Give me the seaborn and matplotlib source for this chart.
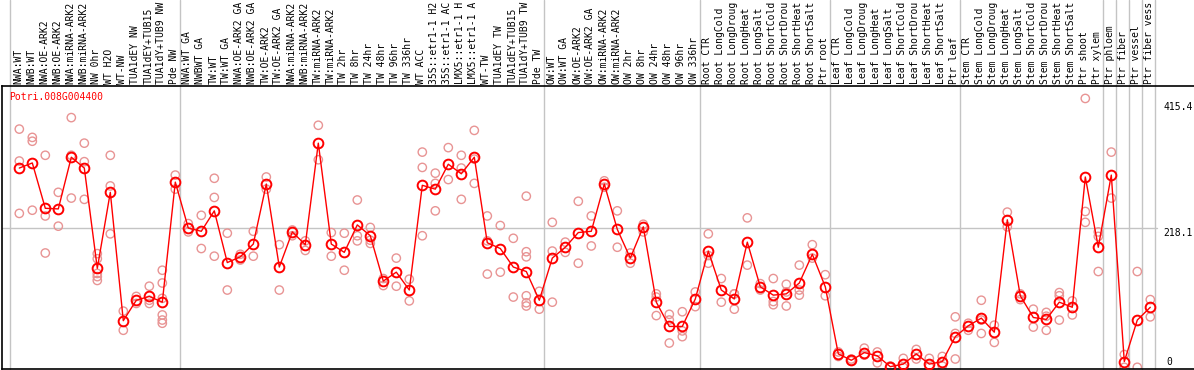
import numpy as np
import pandas as pd
import matplotlib
matplotlib.use("Agg")
import matplotlib.pyplot as plt
import matplotlib.transforms as mtransforms
import seaborn as sns

gene_name = "Potri.008G004400"

categories = [
    "NWA:WT", "NWB:WT", "NWA:OE-ARK2", "NWB:OE-ARK2", "NWA:miRNA-ARK2",
    "NWB:miRNA-ARK2", "NW 0hr", "WT H2O", "WT-NW", "TUA1dEY NW",
    "TUA1dEY+TUB15", "TUA1dY+TUB9 NW", "Pde NW", "NWA:WT GA", "NWBWT GA",
    "TW:WT", "TW:WT GA", "NWA:OE-ARK2 GA", "NWB:OE-ARK2 GA", "TW:OE-ARK2",
    "TW:OE-ARK2 GA", "NWA:miRNA-ARK2", "NWB:miRNA-ARK2", "TW:miRNA-ARK2",
    "TW:miRNA-ARK2", "TW 2hr", "TW 8hr", "TW 24hr", "TW 48hr", "TW 96hr",
    "TW 336hr", "WT ACC", "35S::etr1-1 H2", "35S::etr1-1 AC", "LMX5::etr1-1 H",
    "LMX5::etr1-1 A", "WT-TW", "TUA1dEY TW", "TUA1dEY+TUB15", "TUA1dY+TUB9 TW",
    "Pde TW", "OW:WT", "OW:WT GA", "OW:OE-ARK2", "OW:OE-ARK2 GA",
    "OW:miRNA-ARK2", "OW:miRNA-ARK2", "OW 2hr", "OW 8hr", "OW 24hr",
    "OW 48hr", "OW 96hr", "OW 336hr", "Root CTR", "Root LongCold",
    "Root LongDroug", "Root LongHeat", "Root LongSalt", "Root ShortCold",
    "Root ShortDrou", "Root ShortHeat", "Root ShortSalt", "Ptr root",
    "Leaf CTR", "Leaf LongCold", "Leaf LongDroug", "Leaf LongHeat",
    "Leaf LongSalt", "Leaf ShortCold", "Leaf ShortDrou", "Leaf ShortHeat",
    "Leaf ShortSalt", "Ptr leaf", "Stem CTR", "Stem LongCold",
    "Stem LongDroug", "Stem LongHeat", "Stem LongSalt", "Stem ShortCold",
    "Stem ShortDrou", "Stem ShortHeat", "Stem ShortSalt", "Ptr shoot",
    "Ptr xylem", "Ptr phloem", "Ptr fiber", "Ptr vessel", "Ptr fiber vess",
]

mean_values = [
    312, 320, 249, 248, 329, 312, 155, 274, 73, 105,
    111, 102, 290, 218, 213, 245, 164, 173, 193, 287,
    157, 212, 192, 351, 193, 180, 223, 206, 135, 149,
    121, 285, 279, 318, 303, 329, 195, 186, 157, 150,
    105, 171, 188, 211, 213, 287, 216, 171, 220, 102,
    64, 64, 107, 182, 121, 107, 196, 126, 113, 115,
    132, 177, 126, 21, 11, 23, 18, 1, 5, 21,
    5, 9, 48, 65, 77, 55, 231, 112, 78, 75,
    102, 94, 298, 188, 301, 9, 74, 94,
]

replicate_values = [
    [373, 323, 241], [360, 354, 246], [332, 237, 179], [274, 221],
    [391, 332, 265], [351, 322, 263], [178, 170, 147, 142, 136],
    [332, 284, 209], [88, 58], [111, 100], [127, 105, 100],
    [152, 132, 108, 82, 74, 69], [301, 279], [225, 212], [238, 186],
    [296, 266, 174], [210, 121], [177, 168], [213, 174], [298, 279],
    [192, 121], [215, 206], [198, 183], [379, 325], [211, 174],
    [210, 152], [262, 206, 198], [219, 199, 194], [139, 128], [171, 127],
    [138, 104], [337, 313, 206], [304, 288, 245], [344, 294],
    [332, 312, 263], [371, 326, 288], [237, 198, 146], [222, 149],
    [202, 110], [268, 181, 173, 112, 101, 96], [119, 91], [227, 182, 102],
    [196, 180], [260, 163], [237, 190], [292, 282], [245, 188],
    [179, 163], [224, 212], [115, 110, 81], [83, 74, 38], [87, 57, 48],
    [118, 95], [209, 175, 163], [139, 102], [115, 115, 91], [234, 160],
    [131, 121], [139, 103, 98], [130, 118, 96], [160, 121, 113],
    [192, 171], [145, 112], [24, 17], [13, 10], [30, 19], [24, 7],
    [2, 0], [14, 0], [28, 13], [14, 1], [17, 2], [79, 53, 13], [69, 58],
    [105, 74, 53], [66, 39], [243, 220], [115, 106], [91, 63],
    [86, 80, 58], [117, 112, 74], [104, 82], [421, 244, 227],
    [212, 205, 150], [337, 265], [20, 0], [150, 0], [106, 79],
]

y_tick_values = [415.4, 218.1, 0]
y_tick_labels = ["415.4", "218.1", "0"]
group_ends = [12, 40, 52, 62, 72, 83, 84, 85, 86, 87]

# ---------------------------------------------------------------
W, H, DPI = 1194, 370, 100
fig = plt.figure(figsize=(W / DPI, H / DPI), dpi=DPI)
sns.set_style("white")
plt.rcParams["font.family"] = ["DejaVu Sans Mono", "DejaVu Sans"]

ax_left, ax_right = 2, 1194
ax_top, ax_bot = 86, 369
ax = fig.add_axes([ax_left / W, 1 - ax_bot / H,
                   (ax_right - ax_left) / W, (ax_bot - ax_top) / H])

x0_px, pitch = 19.3, 13.0
ax.set_xlim((ax_left - x0_px) / pitch, (ax_right - x0_px) / pitch)
zero_px, scale = 367.3, 0.6386
ax.set_ylim((zero_px - ax_bot) / scale, (zero_px - ax_top) / scale)

idx = np.arange(len(categories))
mean_df = pd.DataFrame({"x": idx, "value": mean_values})
rep_df = pd.DataFrame(
    [(i, v) for i, reps in enumerate(replicate_values) for v in reps],
    columns=["x", "value"],
)

rep_color = "#E89494"
grid_color = "#C4C4C4"

# grid lines
xmax_data = (1157 - x0_px) / pitch
over = 1 + ax_top / (ax_bot - ax_top)
ax.axvline(-0.715, ymin=0, ymax=over, color=grid_color, lw=1.0, clip_on=False, zorder=1)
for g in group_ends:
    ax.axvline(g + 5 / pitch, ymin=0, ymax=over, color=grid_color, lw=1.0,
               clip_on=False, zorder=1)
ax.plot([ax.get_xlim()[0], xmax_data], [218.1, 218.1], color=grid_color, lw=1.0, zorder=1)

sc = sns.scatterplot(data=rep_df, x="x", y="value", ax=ax, s=36,
                     marker="o", color=rep_color, linewidth=1.0, zorder=2,
                     legend=False)
for coll in ax.collections:
    coll.set_facecolor("none")
    coll.set_edgecolor(rep_color)
    coll.set_linewidth(1.0)

sns.lineplot(data=mean_df, x="x", y="value", ax=ax, color="#FF0000",
             linewidth=1.0, marker="o", markersize=7, markerfacecolor="none",
             markeredgecolor="#FF0000", markeredgewidth=1.4, zorder=3,
             legend=False)

ax.set_xlabel("")
ax.set_ylabel("")
ax.set_xticks([])
ax.set_yticks([])
for side in ["left", "bottom", "top"]:
    ax.spines[side].set_color("black")
    ax.spines[side].set_linewidth(1.2)
ax.spines["right"].set_visible(False)

# header labels
trans = mtransforms.blended_transform_factory(ax.transData, fig.transFigure)
for i, lab in enumerate(categories):
    ax.text(i - 1 / pitch, 1 - 83.5 / H, lab, rotation=90, ha="center",
            va="bottom", fontsize=7, color="black", transform=trans,
            clip_on=False)

# title
fig.text(9 / W, 1 - 96.7 / H, gene_name, color="#FF0000", fontsize=7,
         ha="left", va="center")

# y labels
label_centers = [106.7, 232.7, 361.7]
label_x = [1163, 1163, 1166]
for lab, yc, xc in zip(y_tick_labels, label_centers, label_x):
    fig.text(xc / W, 1 - yc / H, lab, fontsize=7, ha="left", va="center", color="black")

fig.savefig("out.png", dpi=DPI)
